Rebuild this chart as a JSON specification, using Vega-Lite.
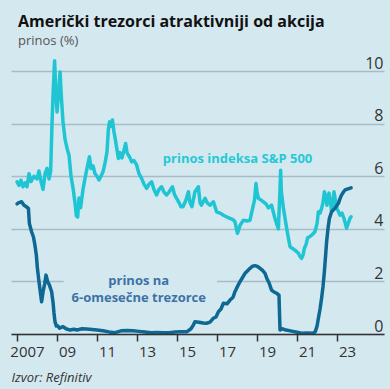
{
  "$schema": "https://vega.github.io/schema/vega-lite/v6.json",
  "width": 373,
  "height": 276,
  "autosize": {"type": "none"},
  "padding": {"left": 11, "top": 58, "right": 6, "bottom": 55},
  "background": "#d4e8f0",
  "config": {"view": {"stroke": null}},
  "title": {
    "text": "Američki trezorci atraktivniji od akcija",
    "subtitle": "prinos (%)",
    "anchor": "start",
    "frame": "group",
    "dx": 7,
    "offset": 7,
    "font": "Open Sans",
    "fontSize": 16,
    "fontWeight": "bold",
    "color": "#111111",
    "subtitleFont": "Open Sans",
    "subtitleFontSize": 13,
    "subtitleColor": "#555555",
    "subtitlePadding": 5
  },
  "datasets": {
    "serije": [
      {"serija": "S&P 500", "datum": "2007-01-01", "prinos": 5.79},
      {"serija": "S&P 500", "datum": "2007-02-06", "prinos": 5.65},
      {"serija": "S&P 500", "datum": "2007-03-14", "prinos": 5.85},
      {"serija": "S&P 500", "datum": "2007-04-20", "prinos": 5.6},
      {"serija": "S&P 500", "datum": "2007-05-27", "prinos": 5.75},
      {"serija": "S&P 500", "datum": "2007-07-02", "prinos": 5.6},
      {"serija": "S&P 500", "datum": "2007-08-08", "prinos": 6.1},
      {"serija": "S&P 500", "datum": "2007-09-13", "prinos": 5.8},
      {"serija": "S&P 500", "datum": "2007-11-06", "prinos": 6.0},
      {"serija": "S&P 500", "datum": "2008-01-01", "prinos": 5.9},
      {"serija": "S&P 500", "datum": "2008-02-06", "prinos": 6.2},
      {"serija": "S&P 500", "datum": "2008-03-14", "prinos": 5.8},
      {"serija": "S&P 500", "datum": "2008-04-20", "prinos": 5.5},
      {"serija": "S&P 500", "datum": "2008-05-27", "prinos": 6.1},
      {"serija": "S&P 500", "datum": "2008-07-02", "prinos": 6.3},
      {"serija": "S&P 500", "datum": "2008-08-08", "prinos": 5.9},
      {"serija": "S&P 500", "datum": "2008-09-06", "prinos": 6.2},
      {"serija": "S&P 500", "datum": "2008-10-01", "prinos": 8.0},
      {"serija": "S&P 500", "datum": "2008-10-20", "prinos": 9.1},
      {"serija": "S&P 500", "datum": "2008-11-17", "prinos": 10.4},
      {"serija": "S&P 500", "datum": "2008-12-13", "prinos": 9.0},
      {"serija": "S&P 500", "datum": "2009-01-01", "prinos": 8.45},
      {"serija": "S&P 500", "datum": "2009-01-30", "prinos": 9.2},
      {"serija": "S&P 500", "datum": "2009-02-25", "prinos": 9.97},
      {"serija": "S&P 500", "datum": "2009-03-21", "prinos": 9.0},
      {"serija": "S&P 500", "datum": "2009-04-20", "prinos": 8.07},
      {"serija": "S&P 500", "datum": "2009-05-27", "prinos": 7.4},
      {"serija": "S&P 500", "datum": "2009-07-02", "prinos": 7.07},
      {"serija": "S&P 500", "datum": "2009-08-08", "prinos": 6.8},
      {"serija": "S&P 500", "datum": "2009-09-13", "prinos": 6.0},
      {"serija": "S&P 500", "datum": "2009-10-20", "prinos": 5.55},
      {"serija": "S&P 500", "datum": "2009-11-24", "prinos": 5.0},
      {"serija": "S&P 500", "datum": "2009-12-20", "prinos": 4.5},
      {"serija": "S&P 500", "datum": "2010-01-12", "prinos": 4.45},
      {"serija": "S&P 500", "datum": "2010-02-06", "prinos": 5.17},
      {"serija": "S&P 500", "datum": "2010-03-07", "prinos": 4.8},
      {"serija": "S&P 500", "datum": "2010-04-20", "prinos": 5.5},
      {"serija": "S&P 500", "datum": "2010-05-27", "prinos": 5.93},
      {"serija": "S&P 500", "datum": "2010-07-02", "prinos": 6.3},
      {"serija": "S&P 500", "datum": "2010-08-15", "prinos": 6.74},
      {"serija": "S&P 500", "datum": "2010-09-13", "prinos": 6.3},
      {"serija": "S&P 500", "datum": "2010-10-20", "prinos": 6.4},
      {"serija": "S&P 500", "datum": "2010-11-24", "prinos": 6.1},
      {"serija": "S&P 500", "datum": "2011-01-01", "prinos": 6.0},
      {"serija": "S&P 500", "datum": "2011-02-06", "prinos": 5.86},
      {"serija": "S&P 500", "datum": "2011-03-14", "prinos": 6.0},
      {"serija": "S&P 500", "datum": "2011-04-20", "prinos": 6.17},
      {"serija": "S&P 500", "datum": "2011-05-27", "prinos": 6.5},
      {"serija": "S&P 500", "datum": "2011-07-02", "prinos": 6.93},
      {"serija": "S&P 500", "datum": "2011-07-28", "prinos": 7.8},
      {"serija": "S&P 500", "datum": "2011-08-19", "prinos": 8.07},
      {"serija": "S&P 500", "datum": "2011-09-13", "prinos": 7.9},
      {"serija": "S&P 500", "datum": "2011-10-09", "prinos": 8.14},
      {"serija": "S&P 500", "datum": "2011-11-06", "prinos": 7.7},
      {"serija": "S&P 500", "datum": "2011-12-02", "prinos": 7.4},
      {"serija": "S&P 500", "datum": "2012-01-01", "prinos": 7.0},
      {"serija": "S&P 500", "datum": "2012-01-26", "prinos": 6.68},
      {"serija": "S&P 500", "datum": "2012-02-25", "prinos": 6.9},
      {"serija": "S&P 500", "datum": "2012-04-01", "prinos": 6.7},
      {"serija": "S&P 500", "datum": "2012-05-08", "prinos": 7.0},
      {"serija": "S&P 500", "datum": "2012-06-07", "prinos": 7.25},
      {"serija": "S&P 500", "datum": "2012-07-02", "prinos": 6.9},
      {"serija": "S&P 500", "datum": "2012-07-28", "prinos": 6.8},
      {"serija": "S&P 500", "datum": "2012-08-26", "prinos": 6.7},
      {"serija": "S&P 500", "datum": "2012-09-24", "prinos": 6.55},
      {"serija": "S&P 500", "datum": "2012-11-06", "prinos": 6.6},
      {"serija": "S&P 500", "datum": "2012-12-24", "prinos": 6.43},
      {"serija": "S&P 500", "datum": "2013-02-06", "prinos": 6.1},
      {"serija": "S&P 500", "datum": "2013-03-25", "prinos": 5.92},
      {"serija": "S&P 500", "datum": "2013-05-08", "prinos": 5.7},
      {"serija": "S&P 500", "datum": "2013-06-25", "prinos": 5.54},
      {"serija": "S&P 500", "datum": "2013-08-08", "prinos": 5.7},
      {"serija": "S&P 500", "datum": "2013-09-24", "prinos": 5.79},
      {"serija": "S&P 500", "datum": "2013-11-06", "prinos": 5.5},
      {"serija": "S&P 500", "datum": "2013-12-24", "prinos": 5.29},
      {"serija": "S&P 500", "datum": "2014-02-06", "prinos": 5.5},
      {"serija": "S&P 500", "datum": "2014-03-25", "prinos": 5.6},
      {"serija": "S&P 500", "datum": "2014-05-08", "prinos": 5.4},
      {"serija": "S&P 500", "datum": "2014-06-25", "prinos": 5.29},
      {"serija": "S&P 500", "datum": "2014-08-08", "prinos": 5.4},
      {"serija": "S&P 500", "datum": "2014-10-09", "prinos": 5.6},
      {"serija": "S&P 500", "datum": "2014-11-17", "prinos": 5.3},
      {"serija": "S&P 500", "datum": "2014-12-24", "prinos": 5.16},
      {"serija": "S&P 500", "datum": "2015-02-06", "prinos": 5.0},
      {"serija": "S&P 500", "datum": "2015-03-14", "prinos": 4.84},
      {"serija": "S&P 500", "datum": "2015-04-20", "prinos": 4.84},
      {"serija": "S&P 500", "datum": "2015-06-14", "prinos": 5.1},
      {"serija": "S&P 500", "datum": "2015-07-28", "prinos": 5.41},
      {"serija": "S&P 500", "datum": "2015-08-26", "prinos": 5.0},
      {"serija": "S&P 500", "datum": "2015-10-01", "prinos": 4.84},
      {"serija": "S&P 500", "datum": "2015-11-24", "prinos": 5.41},
      {"serija": "S&P 500", "datum": "2016-01-26", "prinos": 5.6},
      {"serija": "S&P 500", "datum": "2016-02-25", "prinos": 5.0},
      {"serija": "S&P 500", "datum": "2016-03-21", "prinos": 4.9},
      {"serija": "S&P 500", "datum": "2016-05-27", "prinos": 5.16},
      {"serija": "S&P 500", "datum": "2016-07-02", "prinos": 5.0},
      {"serija": "S&P 500", "datum": "2016-08-26", "prinos": 4.9},
      {"serija": "S&P 500", "datum": "2016-10-27", "prinos": 5.03},
      {"serija": "S&P 500", "datum": "2016-12-24", "prinos": 4.65},
      {"serija": "S&P 500", "datum": "2017-02-25", "prinos": 4.6},
      {"serija": "S&P 500", "datum": "2017-04-27", "prinos": 4.52},
      {"serija": "S&P 500", "datum": "2017-07-02", "prinos": 4.45},
      {"serija": "S&P 500", "datum": "2017-08-26", "prinos": 4.4},
      {"serija": "S&P 500", "datum": "2017-10-20", "prinos": 4.35},
      {"serija": "S&P 500", "datum": "2017-11-24", "prinos": 4.27},
      {"serija": "S&P 500", "datum": "2018-01-08", "prinos": 3.83},
      {"serija": "S&P 500", "datum": "2018-02-06", "prinos": 4.0},
      {"serija": "S&P 500", "datum": "2018-02-25", "prinos": 4.14},
      {"serija": "S&P 500", "datum": "2018-04-27", "prinos": 4.33},
      {"serija": "S&P 500", "datum": "2018-07-02", "prinos": 4.3},
      {"serija": "S&P 500", "datum": "2018-08-26", "prinos": 4.33},
      {"serija": "S&P 500", "datum": "2018-10-12", "prinos": 4.78},
      {"serija": "S&P 500", "datum": "2018-11-17", "prinos": 5.1},
      {"serija": "S&P 500", "datum": "2018-12-13", "prinos": 5.73},
      {"serija": "S&P 500", "datum": "2019-01-01", "prinos": 5.4},
      {"serija": "S&P 500", "datum": "2019-01-26", "prinos": 5.16},
      {"serija": "S&P 500", "datum": "2019-03-14", "prinos": 5.1},
      {"serija": "S&P 500", "datum": "2019-04-27", "prinos": 5.03},
      {"serija": "S&P 500", "datum": "2019-06-14", "prinos": 4.95},
      {"serija": "S&P 500", "datum": "2019-07-28", "prinos": 4.8},
      {"serija": "S&P 500", "datum": "2019-09-24", "prinos": 4.9},
      {"serija": "S&P 500", "datum": "2019-11-24", "prinos": 4.4},
      {"serija": "S&P 500", "datum": "2019-12-24", "prinos": 4.2},
      {"serija": "S&P 500", "datum": "2020-01-26", "prinos": 4.0},
      {"serija": "S&P 500", "datum": "2020-02-25", "prinos": 5.5},
      {"serija": "S&P 500", "datum": "2020-03-07", "prinos": 6.23},
      {"serija": "S&P 500", "datum": "2020-03-21", "prinos": 5.4},
      {"serija": "S&P 500", "datum": "2020-04-27", "prinos": 4.78},
      {"serija": "S&P 500", "datum": "2020-05-27", "prinos": 4.4},
      {"serija": "S&P 500", "datum": "2020-06-25", "prinos": 4.02},
      {"serija": "S&P 500", "datum": "2020-07-31", "prinos": 3.6},
      {"serija": "S&P 500", "datum": "2020-08-26", "prinos": 3.32},
      {"serija": "S&P 500", "datum": "2020-10-12", "prinos": 3.25},
      {"serija": "S&P 500", "datum": "2020-11-24", "prinos": 3.19},
      {"serija": "S&P 500", "datum": "2021-01-26", "prinos": 3.07},
      {"serija": "S&P 500", "datum": "2021-02-25", "prinos": 2.95},
      {"serija": "S&P 500", "datum": "2021-03-25", "prinos": 2.88},
      {"serija": "S&P 500", "datum": "2021-04-20", "prinos": 3.0},
      {"serija": "S&P 500", "datum": "2021-05-15", "prinos": 3.26},
      {"serija": "S&P 500", "datum": "2021-06-14", "prinos": 3.4},
      {"serija": "S&P 500", "datum": "2021-07-13", "prinos": 3.66},
      {"serija": "S&P 500", "datum": "2021-08-19", "prinos": 3.7},
      {"serija": "S&P 500", "datum": "2021-09-24", "prinos": 3.76},
      {"serija": "S&P 500", "datum": "2021-11-24", "prinos": 3.89},
      {"serija": "S&P 500", "datum": "2022-01-01", "prinos": 4.2},
      {"serija": "S&P 500", "datum": "2022-01-26", "prinos": 4.65},
      {"serija": "S&P 500", "datum": "2022-02-25", "prinos": 4.6},
      {"serija": "S&P 500", "datum": "2022-03-25", "prinos": 4.78},
      {"serija": "S&P 500", "datum": "2022-04-20", "prinos": 5.0},
      {"serija": "S&P 500", "datum": "2022-05-15", "prinos": 5.41},
      {"serija": "S&P 500", "datum": "2022-06-14", "prinos": 5.2},
      {"serija": "S&P 500", "datum": "2022-07-02", "prinos": 4.9},
      {"serija": "S&P 500", "datum": "2022-08-08", "prinos": 5.36},
      {"serija": "S&P 500", "datum": "2022-09-06", "prinos": 5.0},
      {"serija": "S&P 500", "datum": "2022-09-24", "prinos": 4.65},
      {"serija": "S&P 500", "datum": "2022-10-20", "prinos": 5.0},
      {"serija": "S&P 500", "datum": "2022-11-06", "prinos": 5.41},
      {"serija": "S&P 500", "datum": "2022-12-02", "prinos": 5.1},
      {"serija": "S&P 500", "datum": "2023-01-01", "prinos": 4.78},
      {"serija": "S&P 500", "datum": "2023-02-25", "prinos": 4.52},
      {"serija": "S&P 500", "datum": "2023-04-01", "prinos": 4.6},
      {"serija": "S&P 500", "datum": "2023-05-08", "prinos": 4.4},
      {"serija": "S&P 500", "datum": "2023-06-25", "prinos": 4.02},
      {"serija": "S&P 500", "datum": "2023-07-31", "prinos": 4.25},
      {"serija": "S&P 500", "datum": "2023-08-26", "prinos": 4.4},
      {"serija": "S&P 500", "datum": "2023-09-15", "prinos": 4.46},
      {"serija": "6M", "datum": "2007-01-01", "prinos": 4.95},
      {"serija": "6M", "datum": "2007-02-06", "prinos": 5.0},
      {"serija": "6M", "datum": "2007-03-25", "prinos": 5.03},
      {"serija": "6M", "datum": "2007-05-08", "prinos": 4.9},
      {"serija": "6M", "datum": "2007-06-14", "prinos": 4.85},
      {"serija": "6M", "datum": "2007-07-28", "prinos": 4.78},
      {"serija": "6M", "datum": "2007-08-15", "prinos": 4.2},
      {"serija": "6M", "datum": "2007-09-24", "prinos": 3.89},
      {"serija": "6M", "datum": "2007-10-27", "prinos": 3.7},
      {"serija": "6M", "datum": "2007-11-24", "prinos": 3.38},
      {"serija": "6M", "datum": "2007-12-20", "prinos": 3.0},
      {"serija": "6M", "datum": "2008-01-08", "prinos": 2.5},
      {"serija": "6M", "datum": "2008-02-06", "prinos": 2.0},
      {"serija": "6M", "datum": "2008-03-07", "prinos": 1.5},
      {"serija": "6M", "datum": "2008-03-25", "prinos": 1.23},
      {"serija": "6M", "datum": "2008-04-20", "prinos": 1.6},
      {"serija": "6M", "datum": "2008-05-19", "prinos": 1.9},
      {"serija": "6M", "datum": "2008-06-14", "prinos": 2.24},
      {"serija": "6M", "datum": "2008-07-13", "prinos": 2.0},
      {"serija": "6M", "datum": "2008-08-15", "prinos": 1.86},
      {"serija": "6M", "datum": "2008-09-24", "prinos": 1.61},
      {"serija": "6M", "datum": "2008-10-20", "prinos": 1.2},
      {"serija": "6M", "datum": "2008-11-06", "prinos": 0.8},
      {"serija": "6M", "datum": "2008-11-24", "prinos": 0.47},
      {"serija": "6M", "datum": "2008-12-20", "prinos": 0.3},
      {"serija": "6M", "datum": "2009-01-19", "prinos": 0.3},
      {"serija": "6M", "datum": "2009-02-14", "prinos": 0.22},
      {"serija": "6M", "datum": "2009-04-20", "prinos": 0.28},
      {"serija": "6M", "datum": "2009-06-14", "prinos": 0.2},
      {"serija": "6M", "datum": "2009-08-26", "prinos": 0.15},
      {"serija": "6M", "datum": "2009-11-06", "prinos": 0.18},
      {"serija": "6M", "datum": "2010-01-01", "prinos": 0.15},
      {"serija": "6M", "datum": "2010-04-01", "prinos": 0.2},
      {"serija": "6M", "datum": "2010-06-25", "prinos": 0.19},
      {"serija": "6M", "datum": "2010-10-01", "prinos": 0.17},
      {"serija": "6M", "datum": "2011-01-01", "prinos": 0.15},
      {"serija": "6M", "datum": "2011-04-20", "prinos": 0.12},
      {"serija": "6M", "datum": "2011-08-08", "prinos": 0.08},
      {"serija": "6M", "datum": "2011-11-24", "prinos": 0.05},
      {"serija": "6M", "datum": "2012-03-14", "prinos": 0.12},
      {"serija": "6M", "datum": "2012-07-02", "prinos": 0.13},
      {"serija": "6M", "datum": "2012-10-20", "prinos": 0.12},
      {"serija": "6M", "datum": "2013-02-06", "prinos": 0.1},
      {"serija": "6M", "datum": "2013-05-27", "prinos": 0.08},
      {"serija": "6M", "datum": "2013-09-13", "prinos": 0.05},
      {"serija": "6M", "datum": "2014-01-01", "prinos": 0.06},
      {"serija": "6M", "datum": "2014-04-20", "prinos": 0.05},
      {"serija": "6M", "datum": "2014-08-08", "prinos": 0.05},
      {"serija": "6M", "datum": "2014-11-24", "prinos": 0.08},
      {"serija": "6M", "datum": "2015-02-25", "prinos": 0.09},
      {"serija": "6M", "datum": "2015-07-02", "prinos": 0.09},
      {"serija": "6M", "datum": "2015-09-13", "prinos": 0.2},
      {"serija": "6M", "datum": "2015-10-27", "prinos": 0.34},
      {"serija": "6M", "datum": "2015-11-24", "prinos": 0.47},
      {"serija": "6M", "datum": "2016-02-06", "prinos": 0.45},
      {"serija": "6M", "datum": "2016-04-20", "prinos": 0.42},
      {"serija": "6M", "datum": "2016-06-25", "prinos": 0.41},
      {"serija": "6M", "datum": "2016-08-26", "prinos": 0.45},
      {"serija": "6M", "datum": "2016-10-27", "prinos": 0.6},
      {"serija": "6M", "datum": "2016-12-13", "prinos": 0.65},
      {"serija": "6M", "datum": "2017-01-26", "prinos": 0.85},
      {"serija": "6M", "datum": "2017-03-14", "prinos": 0.95},
      {"serija": "6M", "datum": "2017-04-27", "prinos": 1.17},
      {"serija": "6M", "datum": "2017-07-02", "prinos": 1.15},
      {"serija": "6M", "datum": "2017-08-26", "prinos": 1.29},
      {"serija": "6M", "datum": "2017-10-20", "prinos": 1.4},
      {"serija": "6M", "datum": "2017-11-24", "prinos": 1.61},
      {"serija": "6M", "datum": "2018-01-19", "prinos": 1.85},
      {"serija": "6M", "datum": "2018-02-25", "prinos": 1.99},
      {"serija": "6M", "datum": "2018-04-12", "prinos": 2.15},
      {"serija": "6M", "datum": "2018-05-27", "prinos": 2.31},
      {"serija": "6M", "datum": "2018-07-09", "prinos": 2.4},
      {"serija": "6M", "datum": "2018-08-26", "prinos": 2.5},
      {"serija": "6M", "datum": "2018-10-12", "prinos": 2.58},
      {"serija": "6M", "datum": "2018-11-24", "prinos": 2.6},
      {"serija": "6M", "datum": "2019-01-08", "prinos": 2.57},
      {"serija": "6M", "datum": "2019-02-25", "prinos": 2.5},
      {"serija": "6M", "datum": "2019-04-12", "prinos": 2.42},
      {"serija": "6M", "datum": "2019-05-27", "prinos": 2.31},
      {"serija": "6M", "datum": "2019-07-02", "prinos": 2.1},
      {"serija": "6M", "datum": "2019-08-08", "prinos": 1.95},
      {"serija": "6M", "datum": "2019-09-24", "prinos": 1.67},
      {"serija": "6M", "datum": "2019-11-06", "prinos": 1.6},
      {"serija": "6M", "datum": "2019-12-24", "prinos": 1.55},
      {"serija": "6M", "datum": "2020-02-06", "prinos": 1.48},
      {"serija": "6M", "datum": "2020-02-25", "prinos": 0.15},
      {"serija": "6M", "datum": "2020-04-01", "prinos": 0.2},
      {"serija": "6M", "datum": "2020-06-14", "prinos": 0.15},
      {"serija": "6M", "datum": "2020-09-24", "prinos": 0.11},
      {"serija": "6M", "datum": "2021-01-01", "prinos": 0.07},
      {"serija": "6M", "datum": "2021-03-25", "prinos": 0.03},
      {"serija": "6M", "datum": "2021-07-02", "prinos": 0.04},
      {"serija": "6M", "datum": "2021-10-27", "prinos": 0.03},
      {"serija": "6M", "datum": "2021-12-02", "prinos": 0.1},
      {"serija": "6M", "datum": "2022-01-01", "prinos": 0.3},
      {"serija": "6M", "datum": "2022-01-26", "prinos": 0.6},
      {"serija": "6M", "datum": "2022-02-25", "prinos": 0.95},
      {"serija": "6M", "datum": "2022-03-25", "prinos": 1.36},
      {"serija": "6M", "datum": "2022-04-20", "prinos": 1.8},
      {"serija": "6M", "datum": "2022-05-15", "prinos": 2.37},
      {"serija": "6M", "datum": "2022-06-07", "prinos": 3.0},
      {"serija": "6M", "datum": "2022-06-25", "prinos": 3.51},
      {"serija": "6M", "datum": "2022-07-20", "prinos": 4.0},
      {"serija": "6M", "datum": "2022-08-15", "prinos": 4.4},
      {"serija": "6M", "datum": "2022-09-24", "prinos": 4.65},
      {"serija": "6M", "datum": "2022-11-24", "prinos": 4.78},
      {"serija": "6M", "datum": "2023-01-26", "prinos": 4.97},
      {"serija": "6M", "datum": "2023-02-25", "prinos": 5.15},
      {"serija": "6M", "datum": "2023-03-25", "prinos": 5.29},
      {"serija": "6M", "datum": "2023-04-27", "prinos": 5.4},
      {"serija": "6M", "datum": "2023-05-27", "prinos": 5.48},
      {"serija": "6M", "datum": "2023-07-20", "prinos": 5.52},
      {"serija": "6M", "datum": "2023-09-15", "prinos": 5.56}
    ]
  },
  "layer": [
    {
      "data": {"values": [{}]},
      "mark": {"type": "rect", "fill": "#d4e8f0", "strokeWidth": 0},
      "encoding": {
        "x": {"datum": {"year": 2009, "month": 5, "date": 1, "utc": true}, "type": "temporal"},
        "x2": {"datum": {"year": 2017, "month": 1, "date": 1, "utc": true}},
        "y": {"datum": 1.75, "type": "quantitative"},
        "y2": {"datum": 2.25}
      }
    },
    {
      "data": {"name": "serije"},
      "mark": {"type": "line", "strokeWidth": 3.5, "strokeJoin": "round", "strokeCap": "round"},
      "encoding": {
        "x": {
          "field": "datum",
          "type": "temporal",
          "scale": {
            "type": "utc",
            "domain": [
              {"year": 2006, "month": 9, "date": 13, "utc": true},
              {"year": 2025, "month": 5, "date": 8, "utc": true}
            ]
          },
          "axis": {
            "values": [
              {"year": 2007, "month": 1, "date": 1, "utc": true},
              {"year": 2008, "month": 1, "date": 1, "utc": true},
              {"year": 2009, "month": 1, "date": 1, "utc": true},
              {"year": 2010, "month": 1, "date": 1, "utc": true},
              {"year": 2011, "month": 1, "date": 1, "utc": true},
              {"year": 2012, "month": 1, "date": 1, "utc": true},
              {"year": 2013, "month": 1, "date": 1, "utc": true},
              {"year": 2014, "month": 1, "date": 1, "utc": true},
              {"year": 2015, "month": 1, "date": 1, "utc": true},
              {"year": 2016, "month": 1, "date": 1, "utc": true},
              {"year": 2017, "month": 1, "date": 1, "utc": true},
              {"year": 2018, "month": 1, "date": 1, "utc": true},
              {"year": 2019, "month": 1, "date": 1, "utc": true},
              {"year": 2020, "month": 1, "date": 1, "utc": true},
              {"year": 2021, "month": 1, "date": 1, "utc": true},
              {"year": 2022, "month": 1, "date": 1, "utc": true},
              {"year": 2023, "month": 1, "date": 1, "utc": true},
              {"year": 2023, "month": 9, "date": 15, "utc": true}
            ],
            "labelExpr": "utcmonth(datum.value) == 0 && utcyear(datum.value) % 2 == 1 ? (utcyear(datum.value) == 2007 ? '2007' : utcFormat(datum.value, '%y')) : ''",
            "labelOffset": 10,
            "labelFlush": false,
            "labelOverlap": false,
            "labelFont": "Open Sans",
            "labelFontSize": 15,
            "labelColor": "#333333",
            "labelPadding": 3,
            "tickSize": 7,
            "tickColor": "#333333",
            "tickWidth": 1.5,
            "domainColor": "#333333",
            "domainWidth": 1.5,
            "grid": false,
            "zindex": 1,
            "title": "Izvor: Refinitiv",
            "titleFont": "Open Sans",
            "titleFontStyle": "italic",
            "titleFontWeight": "normal",
            "titleFontSize": 13,
            "titleColor": "#333333",
            "titleAnchor": "start",
            "titleAlign": "left",
            "titlePadding": 12
          }
        },
        "y": {
          "field": "prinos",
          "type": "quantitative",
          "scale": {"domain": [0, 10.5], "nice": false},
          "axis": {
            "orient": "right",
            "values": [0, 2, 4, 6, 8, 10],
            "grid": true,
            "gridColor": "#a8bcc6",
            "gridWidth": 1.5,
            "domain": false,
            "ticks": false,
            "tickSize": 0,
            "labelAlign": "right",
            "labelBaseline": "alphabetic",
            "labelPadding": -1,
            "labelOffset": -3,
            "labelFont": "Open Sans",
            "labelFontSize": 16,
            "labelColor": "#333333",
            "title": null
          }
        },
        "color": {
          "field": "serija",
          "type": "nominal",
          "scale": {"domain": ["S&P 500", "6M"], "range": ["#1fc5d3", "#0d6893"]},
          "legend": null
        }
      }
    },
    {
      "data": {"values": [{}]},
      "mark": {"type": "text", "text": "prinos indeksa S&P 500", "font": "Open Sans", "fontSize": 13, "fontWeight": "bold", "color": "#27c8d5", "align": "center", "baseline": "middle"},
      "encoding": {
        "x": {"datum": {"year": 2018, "month": 1, "date": 10, "utc": true}, "type": "temporal"},
        "y": {"datum": 6.66, "type": "quantitative"}
      }
    },
    {
      "data": {"values": [{}]},
      "mark": {"type": "text", "text": ["prinos na", "6-omesečne trezorce"], "lineHeight": 17, "font": "Open Sans", "fontSize": 13, "fontWeight": "bold", "color": "#3e72a5", "align": "center", "baseline": "middle"},
      "encoding": {
        "x": {"datum": {"year": 2013, "month": 2, "date": 1, "utc": true}, "type": "temporal"},
        "y": {"datum": 2.0, "type": "quantitative"}
      }
    }
  ]
}
